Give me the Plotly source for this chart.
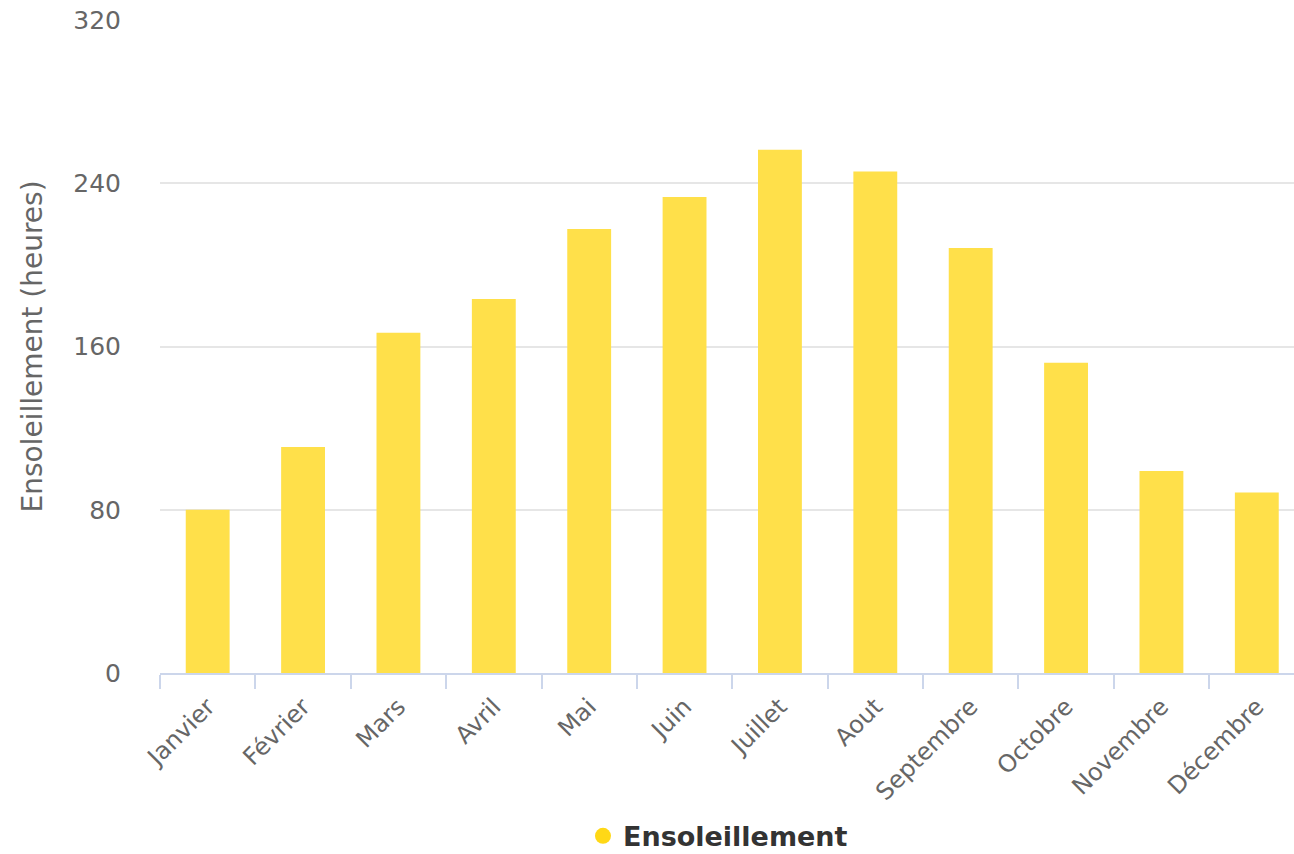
import plotly.graph_objects as go

months = ["Janvier", "Février", "Mars", "Avril", "Mai", "Juin", "Juillet",
          "Aout", "Septembre", "Octobre", "Novembre", "Décembre"]
sunshine = [80, 110.8, 166.7, 183.3, 217.6, 233.3, 256.4, 245.7, 208.3, 152, 99, 88.4]
y_ticks = [0, 80, 160, 240, 320]
series_name = "Ensoleillement"
y_title = "Ensoleillement (heures)"

FONT = "DejaVu Sans"
fig = go.Figure()
fig.add_trace(go.Bar(
    x=months, y=sunshine, name=series_name, showlegend=False,
    width=0.46,
    marker=dict(color="#FFE04A", line=dict(width=0)),
))
fig.add_trace(go.Scatter(
    x=[None], y=[None], mode="markers", name=series_name,
    marker=dict(symbol="circle", size=16, color="#FFD816"),
))
fig.update_layout(
    width=1294, height=854,
    margin=dict(l=160, r=0, t=20, b=181, autoexpand=False),
    plot_bgcolor="white", paper_bgcolor="white",
    font=dict(family=FONT, color="#666666"),
    legend=dict(orientation="h", x=0.373, xanchor="left", y=-0.25, yanchor="middle",
                font=dict(family=FONT, size=27, color="#333333", weight="bold"),
                itemsizing="trace"),
    xaxis=dict(
        range=[-0.5, 11.39], tickangle=-45, tickfont=dict(size=24, color="#666666"),
        showline=True, linecolor="#ccd6eb", linewidth=2, automargin=False,
        ticks="outside", tickson="boundaries", ticklen=14, tickcolor="#ccd6eb", tickwidth=2,
        showgrid=False, ticklabelstandoff=8,
    ),
    yaxis=dict(
        range=[0, 320], tickvals=y_ticks, tickfont=dict(size=25, color="#666666"),
        showgrid=True, gridcolor="#e6e6e6", gridwidth=2, zeroline=False, automargin=False,
        ticks="", ticklabelstandoff=38,
        title=dict(text=y_title, font=dict(size=28, color="#666666"), standoff=22),
    ),
)
fig.write_html("out.html")
